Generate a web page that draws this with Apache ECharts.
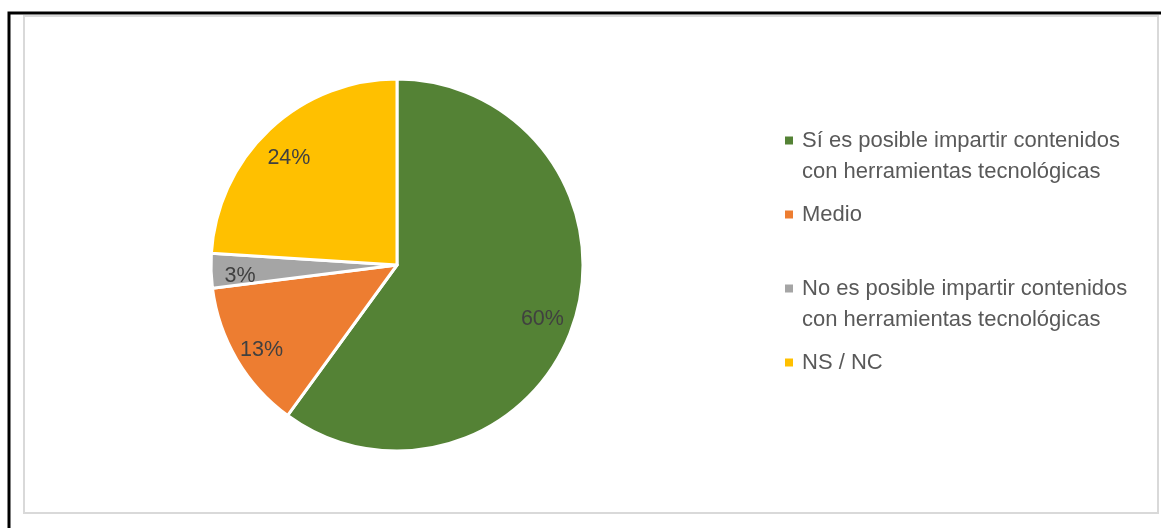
<!DOCTYPE html>
<html>
<head>
<meta charset="utf-8">
<style>
  html, body { margin: 0; padding: 0; background: #ffffff; }
  #chart { width: 1161px; height: 528px; }
</style>
<script src="https://cdn.jsdelivr.net/npm/echarts@6/dist/echarts.min.js"></script>
</head>
<body>
<div id="chart"></div>
<script>
// Survey answers and their shares (%)
const categories = [
  'Sí es posible impartir contenidos con herramientas tecnológicas',
  'Medio',
  'No es posible impartir contenidos con herramientas tecnológicas',
  'NS / NC'
];
const values = [60, 13, 3, 24];
const colors = ['#548235', '#ED7D31', '#A5A5A5', '#FFC000'];
// Legend text, broken into lines the way it is shown
const legendLines = [
  ['Sí es posible impartir contenidos', 'con herramientas tecnológicas'],
  ['Medio'],
  ['No es posible impartir contenidos', 'con herramientas tecnológicas'],
  ['NS / NC']
];
// Vertical centre of each legend marker
const legendMarkerY = [140, 214, 288, 362];

const FONT = '"Liberation Sans", Arial, sans-serif';
const LINE_H = 31;

const chart = echarts.init(document.getElementById('chart'), null, { renderer: 'canvas' });

const pieData = categories.map((name, i) => ({
  name: name,
  value: values[i],
  itemStyle: { color: colors[i] }
}));

// One legend block per entry so each can sit at its own height
const legends = categories.map((name, i) => {
  const lines = legendLines[i];
  const multi = lines.length > 1;
  // For wrapped entries an empty first line keeps the marker level with the first text line
  const boxLines = multi ? lines.length + 1 : 1;
  return {
    data: [name],
    orient: 'vertical',
    left: 785,
    top: legendMarkerY[i] - (boxLines * LINE_H) / 2 + 5,
    padding: 0,
    itemWidth: 8,
    itemHeight: 8,
    icon: 'rect',
    selectedMode: false,
    itemStyle: { borderWidth: 0 },
    formatter: function () {
      const body = lines.map(l => '{t|' + l + '}').join('\n');
      return multi ? '{s| }\n' + body : body;
    },
    textStyle: {
      rich: {
        t: { fontFamily: FONT, fontSize: 22, color: '#595959', lineHeight: LINE_H, padding: [0, 0, 0, 4] },
        s: { fontFamily: FONT, fontSize: 22, lineHeight: LINE_H }
      }
    }
  };
});

const option = {
  backgroundColor: '#ffffff',
  animation: false,
  legend: legends,
  graphic: [
    // outer black frame (open on the right and bottom)
    { type: 'polyline', silent: true, shape: { points: [[9, 528], [9, 13], [1161, 13]] },
      style: { stroke: '#000000', lineWidth: 3, fill: null } },
    // chart area border
    { type: 'rect', silent: true, shape: { x: 24, y: 16, width: 1134, height: 497 },
      style: { stroke: '#D9D9D9', lineWidth: 2, fill: null } }
  ],
  series: [
    {
      type: 'pie',
      center: [397, 265],
      radius: 186,
      startAngle: 90,
      clockwise: true,
      data: pieData,
      itemStyle: { borderColor: '#ffffff', borderWidth: 3 },
      label: { show: false },
      labelLine: { show: false },
      emphasis: { disabled: true },
      silent: true
    },
    {
      // transparent ring carrying the percentage labels further out in each slice
      type: 'pie',
      center: [397, 265],
      radius: 304,
      startAngle: 90,
      clockwise: true,
      data: pieData.map(d => ({ name: d.name, value: d.value })),
      itemStyle: { color: 'rgba(0,0,0,0)', borderWidth: 0 },
      label: {
        show: true,
        position: 'inside',
        formatter: '{c}%',
        fontFamily: FONT,
        fontSize: 21.5,
        color: '#404040',
        offset: [-2, 6]
      },
      labelLine: { show: false },
      emphasis: { disabled: true },
      silent: true
    }
  ]
};

chart.setOption(option);
</script>
</body>
</html>
